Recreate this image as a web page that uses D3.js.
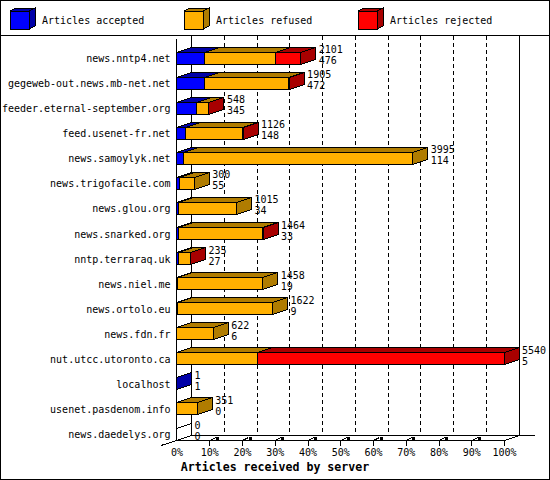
<!DOCTYPE html>
<html>
<head>
<meta charset="utf-8">
<script src="https://cdn.jsdelivr.net/npm/d3@7"></script>
<style>
  body { margin: 0; background: #fff; }
  svg text { font-family: "DejaVu Sans Mono", monospace; font-size: 10px; fill: #000; }
</style>
</head>
<body>
<div id="chart"></div>
<script>
// Data
var servers = ["news.nntp4.net", "gegeweb-out.news.mb-net.net", "feeder.eternal-september.org",
  "feed.usenet-fr.net", "news.samoylyk.net", "news.trigofacile.com", "news.glou.org",
  "news.snarked.org", "nntp.terraraq.uk", "news.niel.me", "news.ortolo.eu", "news.fdn.fr",
  "nut.utcc.utoronto.ca", "localhost", "usenet.pasdenom.info", "news.daedelys.org"];
var accepted = [476, 472, 345, 148, 114, 55, 34, 33, 27, 19, 9, 6, 5, 1, 0, 0];
var refused  = [1202, 1431, 200, 970, 3881, 245, 981, 1428, 205, 1439, 1613, 616, 1357, 0, 351, 0];
var rejected = [423, 2, 3, 8, 0, 0, 0, 3, 3, 0, 0, 0, 4178, 0, 0, 0];
var totals   = [2101, 1905, 548, 1126, 3995, 300, 1015, 1464, 235, 1458, 1622, 622, 5540, 1, 351, 0];
var seriesNames = ["Articles accepted", "Articles refused", "Articles rejected"];
var percentTicks = [0, 10, 20, 30, 40, 50, 60, 70, 80, 90, 100];
var axisTitle = "Articles received by server";

// Layout
var width = 550;
var height = 480;
var depthX = 15;
var depthY = 5;
var faceHeight = 12;
var frontLeft = 176.5;
var frontRight = 504;
var plotTop = 39;
var plotBottom = 440;
var legendBottom = 35;

var colors = ["#0000ff", "#ffb000", "#ff0000"];
var darkColors = ["#0000a8", "#b07c00", "#a80000"];

var px = v => Math.round(v - 0.5) + 0.5;

var svg = d3.select("#chart").append("svg")
  .attr("width", width)
  .attr("height", height);

svg.append("rect")
  .attr("x", 0.5).attr("y", 0.5)
  .attr("width", width - 1).attr("height", height - 1)
  .attr("fill", "#fff").attr("stroke", "#000");

svg.append("line")
  .attr("x1", 0).attr("x2", width)
  .attr("y1", legendBottom + 0.5).attr("y2", legendBottom + 0.5)
  .attr("stroke", "#000");

/* Legend */
var legend = svg.append("g").attr("class", "legend");
seriesNames.forEach((name, i) => {
  var lx = 10 + i * 174;
  var ly = 11;
  var g = legend.append("g").attr("shape-rendering", "crispEdges");
  g.append("polygon")
    .attr("points", [[lx, ly], [lx + 6, ly - 3], [lx + 25, ly - 3], [lx + 19, ly]].join(" "))
    .attr("fill", darkColors[i]).attr("stroke", "#000");
  g.append("polygon")
    .attr("points", [[lx + 19, ly], [lx + 25, ly - 3], [lx + 25, ly + 15], [lx + 19, ly + 18]].join(" "))
    .attr("fill", darkColors[i]).attr("stroke", "#000");
  g.append("rect")
    .attr("x", lx + 0.5).attr("y", ly + 0.5)
    .attr("width", 19).attr("height", 18)
    .attr("fill", colors[i]).attr("stroke", "#000");
  legend.append("text")
    .attr("x", lx + 32)
    .attr("y", 23.5)
    .text(name);
});

/* Scales */
var xScale = d3.scaleLinear()
  .domain([0, d3.max(totals)])
  .range([frontLeft, frontRight]);

var pctScale = d3.scaleLinear()
  .domain([0, 100])
  .range([frontLeft, frontRight]);

var yScale = d3.scaleBand()
  .domain(servers)
  .range([plotTop, plotBottom]);

/* Back walls and grid */
var walls = svg.append("g").attr("shape-rendering", "crispEdges").attr("stroke", "#000");

percentTicks.slice(1, -1).forEach(p => {
  walls.append("line")
    .attr("x1", px(pctScale(p) + depthX)).attr("x2", px(pctScale(p) + depthX))
    .attr("y1", legendBottom + 1).attr("y2", plotBottom - depthY)
    .attr("stroke-dasharray", "4,3");
});

walls.append("line")
  .attr("x1", px(frontLeft + depthX)).attr("x2", px(frontLeft + depthX))
  .attr("y1", legendBottom + 1).attr("y2", px(plotBottom - depthY));
walls.append("line")
  .attr("x1", px(frontRight + depthX)).attr("x2", px(frontRight + depthX))
  .attr("y1", legendBottom + 1).attr("y2", px(plotBottom - depthY));
walls.append("line")
  .attr("x1", px(frontLeft + depthX)).attr("x2", 535)
  .attr("y1", px(plotBottom - depthY)).attr("y2", px(plotBottom - depthY));
walls.append("line")
  .attr("x1", px(frontLeft)).attr("x2", px(frontLeft + depthX))
  .attr("y1", px(plotBottom)).attr("y2", px(plotBottom - depthY));
walls.append("line")
  .attr("x1", px(frontRight)).attr("x2", px(frontRight + depthX))
  .attr("y1", px(plotBottom)).attr("y2", px(plotBottom - depthY));

/* Bars */
var bars = svg.append("g").attr("class", "bars").attr("shape-rendering", "crispEdges");

servers.forEach((server, r) => {
  var values = [accepted[r], refused[r], rejected[r]];
  var yb = yScale(server) + yScale.bandwidth();
  var yt = yb - faceHeight;
  var top = px(yt), bottom = px(yb);
  var start = 0;

  if (totals[r] === 0) {
    bars.append("line")
      .attr("x1", px(xScale(0))).attr("y1", top)
      .attr("x2", px(xScale(0) + depthX)).attr("y2", px(yt - depthY))
      .attr("stroke", "#000");
  }

  values.forEach((v, i) => {
    if (v <= 0) return;
    var x0 = px(xScale(start));
    var x1 = px(xScale(start + v));
    start += v;
    bars.append("polygon")
      .attr("points", [[x0, top], [x0 + depthX, top - depthY], [x1 + depthX, top - depthY], [x1, top]].join(" "))
      .attr("fill", darkColors[i]).attr("stroke", "#000");
    bars.append("polygon")
      .attr("points", [[x1, top], [x1 + depthX, top - depthY], [x1 + depthX, bottom - depthY], [x1, bottom]].join(" "))
      .attr("fill", darkColors[i]).attr("stroke", "#000");
    bars.append("polygon")
      .attr("points", [[x0, top], [x1, top], [x1, bottom], [x0, bottom]].join(" "))
      .attr("fill", colors[i]).attr("stroke", "#000");
  });

  // value labels: total on top, accepted below
  var lx = xScale(totals[r]) + depthX + 3;
  bars.append("text").attr("x", lx).attr("y", yt + 1).text(totals[r]);
  bars.append("text").attr("x", lx).attr("y", yb).text(accepted[r]);

  // category label
  svg.append("text")
    .attr("x", frontLeft - 6)
    .attr("y", (yt + yb) / 2 + 4)
    .attr("text-anchor", "end")
    .text(server);
});

/* Front axes */
var front = svg.append("g").attr("shape-rendering", "crispEdges").attr("stroke", "#000");
front.append("line")
  .attr("x1", px(frontLeft)).attr("x2", px(frontLeft))
  .attr("y1", plotTop).attr("y2", px(plotBottom));

var xAxis = d3.axisBottom(pctScale)
  .tickValues(percentTicks)
  .tickSize(5)
  .tickSizeOuter(0)
  .tickPadding(3)
  .tickFormat(d => d + "%");

var xAxisGroup = svg.append("g")
  .attr("class", "x axis")
  .attr("transform", `translate(0, ${px(plotBottom)})`)
  .attr("shape-rendering", "crispEdges")
  .call(xAxis);

xAxisGroup.attr("font-family", null).attr("font-size", null);
xAxisGroup.select(".domain").attr("d", `M${px(frontLeft)},0H${px(frontRight)}`);
xAxisGroup.selectAll(".tick line").filter(d => d === 0).remove();

// little 3d tick marks pointing into the floor
xAxisGroup.selectAll(".tick").each(function (d) {
  var g = d3.select(this);
  if (d === 0) {
    g.append("line").attr("x1", 0).attr("y1", 0).attr("x2", -16).attr("y2", 5).attr("stroke", "#000");
  } else if (d < 100) {
    g.append("line").attr("x1", 0).attr("y1", 0).attr("x2", 6).attr("y2", -3).attr("stroke", "#000");
    g.append("rect").attr("x", 6).attr("y", -4).attr("width", 3).attr("height", 3).attr("fill", "#000");
  }
});

svg.append("text")
  .attr("x", width / 2)
  .attr("y", 471)
  .attr("text-anchor", "middle")
  .style("font-weight", "bold")
  .style("font-size", "11.6px")
  .text(axisTitle);
</script>
</body>
</html>
